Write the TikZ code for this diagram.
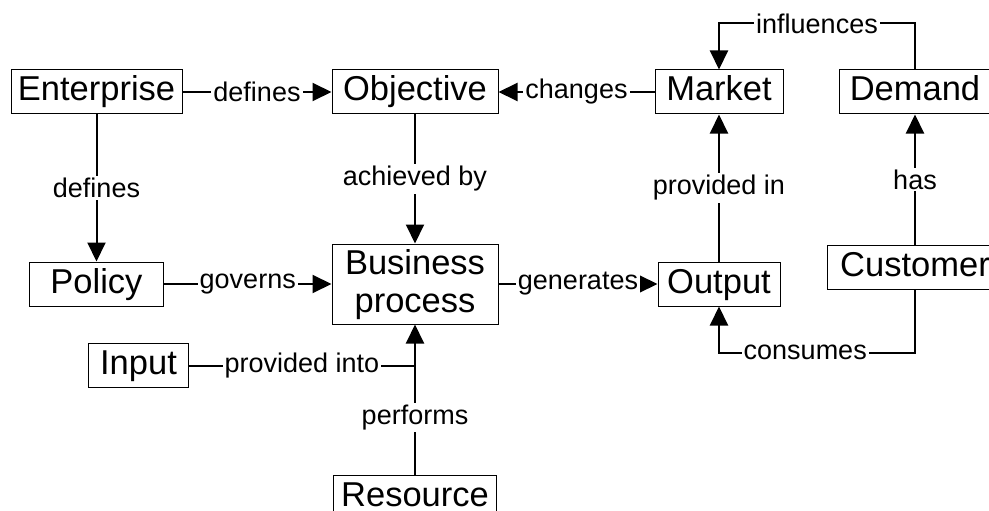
\documentclass[tikz,border=0pt]{standalone}
\usepackage{fontspec}
\setmainfont{Liberation Sans}
\usetikzlibrary{positioning,arrows.meta}

\begin{document}
\begin{tikzpicture}[
        >={Triangle[length=19pt,width=18pt]},
        line width=2pt,
        box/.style={draw, line width=1pt, align=center, minimum height=44pt, inner sep=2pt, text height=25pt, text depth=7pt, font=\fontsize{34.5}{38}\selectfont},
        rel/.style={fill=white, inner sep=2pt, font=\fontsize{27}{27}\selectfont}
      ]
      \useasboundingbox (0,0) rectangle (989pt,-511pt);

      \node (Ent) [box, minimum width=171pt] at (96.5pt,-92pt) {Enterprise};
      \node (Obj) [box, minimum width=166pt, node distance=149pt, right=of Ent] {Objective};
      \node (Mkt) [box, minimum width=128pt, node distance=156pt, right=of Obj] {Market};
      \node (Dem) [box, minimum width=152pt, node distance=55pt, right=of Mkt] {Demand};

      \node (Pol) [box, minimum width=134pt, node distance=147pt, below=of Ent] {Policy};
      \node (BP) [box, minimum width=166pt, minimum height=80pt, text height=63pt, node distance=129pt, below=of Obj] {Business\\process};
      \node (Out) [box, minimum width=122pt, node distance=147pt, below=of Mkt] {Output};
      \node (Cus) [box, minimum width=176pt, node distance=130pt, below=of Dem] {Customer};

      \coordinate [below=41pt of BP.south] (join);
      \node (Inp) [box, minimum width=100pt, node distance=226pt, left=of join] {Input};
      \node (Res) [box, minimum width=163pt, node distance=109pt, below=of join] {Resource};

      \draw[->] (Ent) -- node[rel] {defines} (Obj);
      \draw[->] (Mkt) -- node[rel] {changes} (Obj);
      \draw[->] (Ent) -- node[rel] {defines} (Pol);
      \draw[->] (Obj) -- node[rel] {achieved by} (BP);
      \draw[->] (Pol) -- node[rel] {governs} (BP);
      \draw[->] (BP) -- node[rel] {generates} (Out);
      \draw[->] (Out) -- node[rel] {provided in} (Mkt);
      \draw[->] (Cus) -- node[rel] {has} (Dem);
      \draw[->] (Dem.north) -- ++(0,46pt) -| node[rel, pos=0.25] {influences} (Mkt.north);
      \draw[->] (Cus.south) -- ++(0,-63pt) -| node[rel, pos=0.28] {consumes} (Out.south);
      \draw (Inp) -- node[rel] {provided into} (join);
      \draw[->] (Res) -- node[rel, pos=0.38] {performs} (BP);

    \end{tikzpicture}
\end{document}
